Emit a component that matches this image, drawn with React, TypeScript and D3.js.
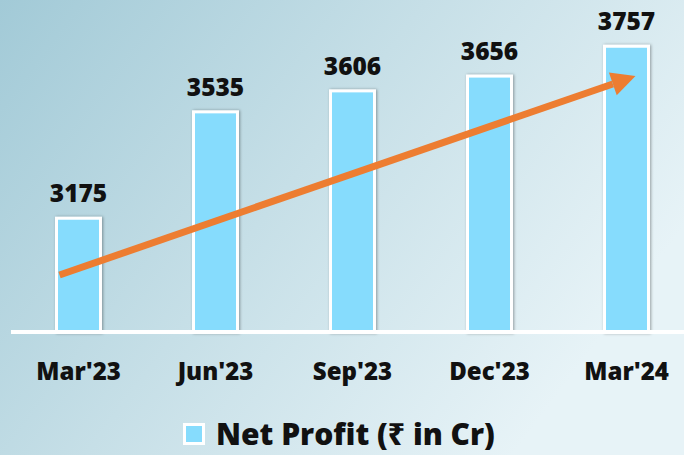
import React from "react";
import * as d3 from "d3";

const categories = ["Mar'23", "Jun'23", "Sep'23", "Dec'23", "Mar'24"];
const netProfit = [3175, 3535, 3606, 3656, 3757];
const legendLabel = "Net Profit (₹ in Cr)";
// trend arrow annotation (value-space start / end)
const trendValues = [2983, 3656];

const W = 684;
const H = 455;
const FONT = "'Open Sans', 'Noto Sans', 'DejaVu Sans', sans-serif";

export default function App() {
  const x = d3.scaleBand<string>().domain(categories).range([10, 695]).paddingInner(0.679).paddingOuter(0.3395);
  const y = d3.scaleLinear().domain([2790, 3900]).range([332, 4]);
  const bw = x.bandwidth();
  const cx = (c: string) => (x(c) as number) + bw / 2;

  // arrow geometry from scales
  const x0 = cx(categories[0]) - 19;
  const y0 = y(trendValues[0]);
  const x1 = cx(categories[categories.length - 1]) + 9;
  const y1 = y(trendValues[1]);
  const dx = x1 - x0, dy = y1 - y0;
  const len = Math.hypot(dx, dy);
  const ux = dx / len, uy = dy / len;
  const nx = -uy, ny = ux;
  const headLen = 24, headHalf = 12;
  const bx = x1 - headLen * ux, by = y1 - headLen * uy;
  const head = [
    [x1, y1],
    [bx + headHalf * nx, by + headHalf * ny],
    [bx - headHalf * nx, by - headHalf * ny],
  ];

  return (
    <svg width={W} height={H} style={{ position: "absolute", left: 0, top: 0, display: "block" }}>
      <defs>
        <linearGradient id="bg" x1="0" y1="0" x2="1" y2="0.5">
          <stop offset="0" stopColor="#a2cad7" />
          <stop offset="0.5" stopColor="#c6dfe7" />
          <stop offset="1" stopColor="#e7f3f7" />
        </linearGradient>
        <filter id="sh" x="-30%" y="-10%" width="160%" height="120%">
          <feDropShadow dx="1" dy="0" stdDeviation="1.8" floodColor="#000" floodOpacity="0.35" />
        </filter>
      </defs>
      <rect x={0} y={0} width={W} height={H} fill="url(#bg)" />
      {categories.map((c, i) => (
        <rect
          key={c}
          x={x(c) as number}
          y={y(netProfit[i])}
          width={bw}
          height={y(2790) - y(netProfit[i])}
          fill="#86dcfd"
          stroke="#ffffff"
          strokeWidth={3}
          filter="url(#sh)"
        />
      ))}
      <line x1={11} x2={W} y1={332} y2={332} stroke="#ffffff" strokeWidth={4} />
      {categories.map((c, i) => (
        <text
          key={"v" + c}
          x={cx(c)}
          y={y(netProfit[i]) - 16}
          textAnchor="middle"
          fontFamily={FONT}
          fontWeight={800}
          fontSize={24.5}
          fill="#111"
        >
          {netProfit[i]}
        </text>
      ))}
      {categories.map((c) => (
        <text
          key={"c" + c}
          x={cx(c)}
          y={380}
          textAnchor="middle"
          fontFamily={FONT}
          fontWeight={800}
          fontSize={24}
          fill="#111"
        >
          {c}
        </text>
      ))}
      <line x1={x0} y1={y0} x2={bx} y2={by} stroke="#ed7d31" strokeWidth={7} />
      <polygon points={head.map((p) => p.join(",")).join(" ")} fill="#ed7d31" />
      <rect x={184.5} y={424.5} width={19} height={19} fill="#86dcfd" stroke="#ffffff" strokeWidth={3} />
      <text x={216} y={445} fontFamily={FONT} fontWeight={800} fontSize={30} fill="#111">
        {legendLabel}
      </text>
    </svg>
  );
}
